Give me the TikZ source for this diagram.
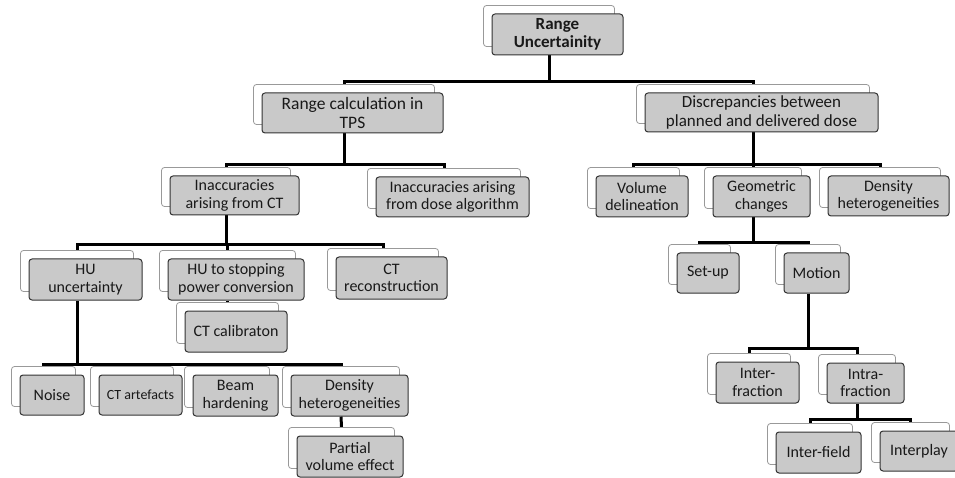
\documentclass[tikz,border=0pt]{standalone}
\usepackage{fontspec}
\setmainfont{Carlito}
\usetikzlibrary{backgrounds}
\tikzset{
  gbox/.style={draw=black!80, fill=gray!42, rounded corners=3pt, line width=1pt,
    align=center, inner sep=0pt, text=black!90, font=\fontsize{16}{17.5}\selectfont},
  wbox/.style={draw=black!40, fill=white, rounded corners=3pt, line width=0.8pt, inner sep=0pt},
  conn/.style={draw=black, line width=3pt, line join=miter}
}
\newcommand\gbox[7][]{%
  \pgfmathsetmacro\gbW{#5-#3}\pgfmathsetmacro\gbH{#6-#4}%
  \pgfmathsetmacro\gbX{(#3+#5)/2}\pgfmathsetmacro\gbY{-(#4+#6)/2}%
  \node[wbox,minimum width=\gbW pt,minimum height=\gbH pt] (#2w) at (\gbX-8.5,\gbY+8.5) {};
  \node[gbox,minimum width=\gbW pt,minimum height=\gbH pt,#1] (#2) at (\gbX,\gbY) {#7};}
\begin{document}
\begin{tikzpicture}[x=1pt,y=1pt]
\useasboundingbox (0,0) rectangle (955,-478);
\gbox[font=\fontsize{17}{18.5}\selectfont\bfseries]{root}{492}{14}{623}{55}{Range\\Uncertainity}
\gbox[font=\fontsize{17.5}{19}\selectfont]{tps}{262}{93}{443}{133}{Range calculation in\\TPS}
\gbox[font=\fontsize{17}{18.5}\selectfont]{disc}{645}{93}{878}{132}{Discrepancies between\\planned and delivered dose}
\gbox{ict}{170}{176}{299}{215}{Inaccuracies\\arising from CT}
\gbox{ida}{376}{177}{529}{217}{Inaccuracies arising\\from dose algorithm}
\gbox{vol}{596}{176}{688}{217}{Volume\\delineation}
\gbox{geo}{713}{176}{810}{217}{Geometric\\changes}
\gbox{dhA}{828}{176}{949}{216}{Density\\heterogeneities}
\gbox{hu}{29}{259}{142}{300}{HU\\uncertainty}
\gbox{hus}{168}{259}{304}{300}{HU to stopping\\power conversion}
\gbox{ctr}{336}{257}{447}{299}{CT\\reconstruction}
\gbox{ctc}{185}{311}{287}{352}{CT calibraton}
\gbox{setup}{677}{253}{739}{293}{Set-up}
\gbox{mot}{784}{253}{849}{293}{Motion}
\gbox{noise}{20}{375}{84}{415}{Noise}
\gbox[font=\fontsize{14}{16}\selectfont]{cta}{99}{375}{182}{415}{CT artefacts}
\gbox{bh}{193}{375}{278}{416}{Beam\\hardening}
\gbox{dhB}{291}{375}{408}{416}{Density\\heterogeneities}
\gbox{pve}{297}{436}{403}{477}{Partial\\volume effect}
\gbox{inter}{716}{362}{799}{403}{Inter-\\fraction}
\gbox{intra}{827}{363}{904}{403}{Intra-\\fraction}
\gbox{ifield}{776}{432}{861}{473}{Inter-field}
\gbox{iplay}{880}{431}{958}{471}{Interplay}
\coordinate (b1) at (0,-81.5);
\coordinate (b2) at (0,-164.5);
\coordinate (b3) at (0,-245);
\coordinate (b4) at (0,-243);
\coordinate (b5) at (0,-364);
\coordinate (b6) at (0,-348);
\coordinate (b7) at (0,-419);
\begin{scope}[on background layer]
\draw[conn] (rootw |- root.south) -- (rootw |- b1);
\draw[conn] (tpsw.north) -- (tpsw |- b1) -- (discw |- b1) -- (discw.north);
\draw[conn] (tpsw |- tps.south) -- (tpsw |- b2);
\draw[conn] (ictw.north) -- (ictw |- b2) -- (idaw |- b2) -- (idaw.north);
\draw[conn] (discw |- disc.south) -- (discw |- b2);
\draw[conn] (volw.north) -- (volw |- b2) -- (dhAw |- b2) -- (dhAw.north);
\draw[conn] (geow.north) -- (geow |- b2);
\draw[conn] (ictw |- ict.south) -- (ictw |- b3);
\draw[conn] (huw.north) -- (huw |- b3) -- (ctrw |- b3) -- (ctrw.north);
\draw[conn] (husw.north) -- (husw |- b3);
\draw[conn] (husw |- hus.south) -- (ctcw.north);
\draw[conn] (geow |- geo.south) -- (geow |- b4);
\draw[conn] (setupw.north) -- (setupw |- b4) -- (motw |- b4) -- (motw.north);
\draw[conn] (huw |- hu.south) -- (huw |- b5);
\draw[conn] (noisew.north) -- (noisew |- b5) -- (dhBw |- b5) -- (dhBw.north);
\draw[conn] (ctaw.north) -- (ctaw |- b5);
\draw[conn] (bhw.north) -- (bhw |- b5);
\draw[conn] (dhBw |- dhB.south) -- (pvew.north);
\draw[conn] (motw |- mot.south) -- (motw |- b6);
\draw[conn] (interw.north) -- (interw |- b6) -- (intraw |- b6) -- (intraw.north);
\draw[conn] (intraw |- intra.south) -- (intraw |- b7);
\draw[conn] (ifieldw.north) -- (ifieldw |- b7) -- (iplayw |- b7) -- (iplayw.north);
\end{scope}
\end{tikzpicture}
\end{document}
